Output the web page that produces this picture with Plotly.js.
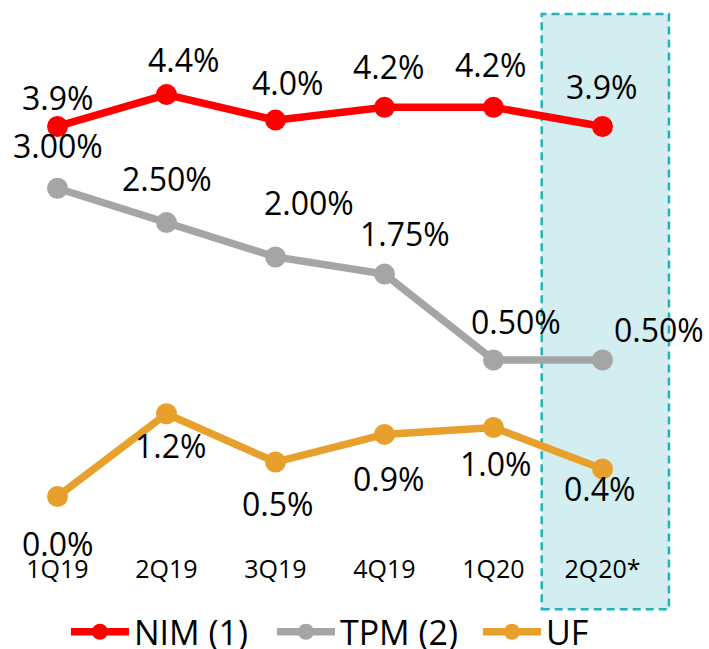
<!DOCTYPE html>
<html>
<head>
<meta charset="utf-8">
<script src="https://cdn.plot.ly/plotly-3.0.1.min.js"></script>
<style>html,body{margin:0;padding:0;background:#fff;}#chart{width:709px;height:649px;}</style>
</head>
<body>
<div id="chart"></div>
<script>
// ---- data ----
const categories = ['1Q19', '2Q19', '3Q19', '4Q19', '1Q20', '2Q20*'];
const nimValues = [3.9, 4.4, 4.0, 4.2, 4.2, 3.9];
const tpmValues = [3.00, 2.50, 2.00, 1.75, 0.50, 0.50];
const ufValues = [0.0, 1.2, 0.5, 0.9, 1.0, 0.4];
const seriesNames = ['NIM (1)', 'TPM (2)', 'UF'];

// ---- styles ----
const FONT = 'Open Sans, Noto Sans, sans-serif';
const colors = ['#FF0000', '#A5A5A5', '#E8A02C'];
// label offsets in px [dx, dy(up)]
const nimLabelOff = [[0, 29], [17, 35], [12, 38], [4, 41], [-3, 43], [-1, 40]];
const tpmLabelOff = [[0, 43], [0, 44], [33, 54], [20, 41], [22, 38], [56, 30]];
const ufLabelOff = [[0, -47], [4, -32], [2, -41], [4, -44], [2, -36], [-3, -20]];

const xIdx = categories.map((c, i) => i);

function lineTrace(name, vals, color, yaxis) {
  return {
    type: 'scatter', mode: 'lines+markers', name: name,
    x: xIdx, y: vals, yaxis: yaxis,
    line: {color: color, width: 7.5},
    marker: {color: color, size: 21},
    hoverinfo: 'skip', cliponaxis: false
  };
}

const traces = [
  lineTrace(seriesNames[0], nimValues, colors[0], 'y3'),
  lineTrace(seriesNames[1], tpmValues, colors[1], 'y'),
  lineTrace(seriesNames[2], ufValues, colors[2], 'y2')
];

function labels(vals, digits, yref, offs) {
  return vals.map((v, i) => ({
    x: xIdx[i], y: v, xref: 'x', yref: yref,
    text: v.toFixed(digits) + '%', showarrow: false,
    xanchor: 'center', yanchor: 'middle',
    xshift: offs[i][0], yshift: offs[i][1],
    font: {family: FONT, size: 32, color: '#000'}
  }));
}

const annotations = []
  .concat(labels(nimValues, 1, 'y3', nimLabelOff))
  .concat(labels(tpmValues, 2, 'y', tpmLabelOff))
  .concat(labels(ufValues, 1, 'y2', ufLabelOff));

const hiddenY = {visible: false, showgrid: false, zeroline: false, fixedrange: true};

const layout = {
  width: 709, height: 649,
  margin: {l: 3, r: 52, t: 10, b: 101},
  paper_bgcolor: '#fff', plot_bgcolor: 'rgba(0,0,0,0)',
  font: {family: FONT, color: '#000'},
  showlegend: true,
  legend: {
    orientation: 'h', xref: 'container', yref: 'container',
    x: 0.093, y: 0.026, xanchor: 'left', yanchor: 'middle',
    font: {family: FONT, size: 34, color: '#000'},
    itemwidth: 58, traceorder: 'normal', bgcolor: 'rgba(0,0,0,0)',
    entrywidth: 133, entrywidthmode: 'pixels'
  },
  xaxis: {
    type: 'linear', range: [-0.5, 5.5],
    tickvals: xIdx, ticktext: categories,
    showgrid: false, zeroline: false, showline: false, ticks: '',
    tickfont: {family: FONT, size: 25, color: '#000'},
    ticklabelstandoff: 4, fixedrange: true
  },
  yaxis: Object.assign({range: [-2.238, 5.596]}, hiddenY),
  yaxis2: Object.assign({range: [-0.746, 7.051], overlaying: 'y'}, hiddenY),
  yaxis3: Object.assign({range: [-2.712, 5.727], overlaying: 'y'}, hiddenY),
  shapes: [{
    type: 'rect', xref: 'paper', yref: 'paper',
    x0: 0.8237, x1: 1.0183, y0: -0.1139, y1: 0.9926,
    fillcolor: '#D2EEF0', layer: 'below',
    line: {color: '#20B4BA', width: 2.5, dash: '8px,5px'}
  }],
  annotations: annotations
};

Plotly.newPlot('chart', traces, layout, {displayModeBar: false, staticPlot: true});
</script>
</body>
</html>
